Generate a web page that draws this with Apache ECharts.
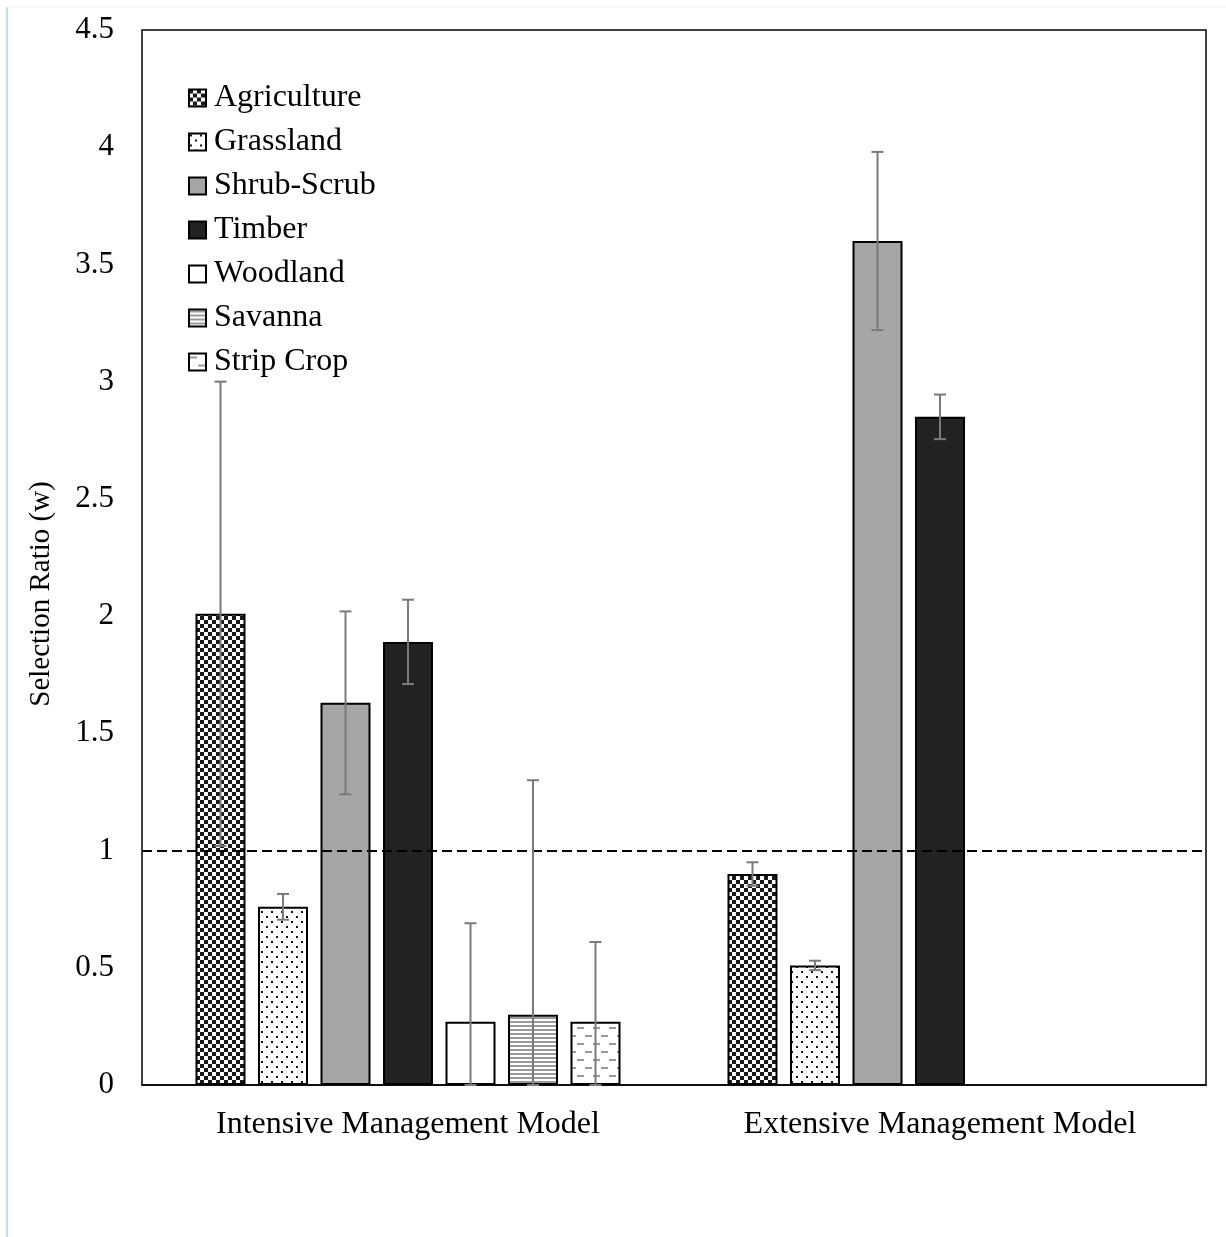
<!DOCTYPE html>
<html>
<head>
<meta charset="utf-8">
<script src="https://cdn.jsdelivr.net/npm/echarts@6/dist/echarts.min.js"></script>
<style>
  html, body { margin: 0; padding: 0; background: #fff; }
  #chart { width: 1226px; height: 1237px; }
</style>
</head>
<body>
<div id="chart"></div>
<script>
// Management models on the x axis
const categories = ['Intensive Management Model', 'Extensive Management Model'];

// Land cover types (one bar series each)
const landTypes = ['Agriculture', 'Grassland', 'Shrub-Scrub', 'Timber', 'Woodland', 'Savanna', 'Strip Crop'];

// Selection ratio (w) per land type: [intensive, extensive]
const agriculture = [2.01, 0.90];
const grassland   = [0.76, 0.51];
const shrubScrub  = [1.63, 3.60];
const timber      = [1.89, 2.85];
const woodland    = [0.27, null];
const savanna     = [0.30, null];
const stripCrop   = [0.27, null];

// Error bar half-widths (±) per land type: [intensive, extensive]
const agricultureErr = [0.99, 0.05];
const grasslandErr   = [0.055, 0.02];
const shrubScrubErr  = [0.39, 0.38];
const timberErr      = [0.18, 0.095];
const woodlandErr    = [0.42, null];
const savannaErr     = [1.00, null];
const stripCropErr   = [0.34, null];

// Y-axis range and title
const yMin = 0, yMax = 4.5, yStep = 0.5;
const yTitle = 'Selection Ratio (w)';
// Reference line value
const referenceValue = 1;

const values = [agriculture, grassland, shrubScrub, timber, woodland, savanna, stripCrop];
const errors = [agricultureErr, grasslandErr, shrubScrubErr, timberErr, woodlandErr, savannaErr, stripCropErr];

// ---- fill patterns ----
function makeTile(w, h, draw) {
  const c = document.createElement('canvas');
  c.width = w; c.height = h;
  const ctx = c.getContext('2d');
  ctx.fillStyle = '#ffffff';
  ctx.fillRect(0, 0, w, h);
  draw(ctx);
  return { image: c, repeat: 'repeat' };
}
const checkerFill = makeTile(8, 8, ctx => {
  ctx.fillStyle = '#1a1a1a';
  ctx.fillRect(0, 0, 4, 4);
  ctx.fillRect(4, 4, 4, 4);
});
const dotFill = makeTile(10, 10, ctx => {
  ctx.fillStyle = '#111111';
  ctx.fillRect(1, 1, 2, 2);
  ctx.fillRect(6, 6, 2, 2);
});
const stripeFill = makeTile(4, 4, ctx => {
  ctx.fillStyle = '#9a9a9a';
  ctx.fillRect(0, 1, 4, 2);
});
const dashFill = makeTile(16, 16, ctx => {
  ctx.fillStyle = '#9a9a9a';
  ctx.fillRect(1, 3, 7, 2);
  ctx.fillRect(9, 11, 7, 2);
});
const fills = [checkerFill, dotFill, '#a6a6a6', '#222222', '#ffffff', stripeFill, dashFill];

const barWidth = 50;
const barGapRatio = 0.25;
const serifFont = '"Liberation Serif", "Times New Roman", serif';

const barSeries = landTypes.map((name, i) => ({
  name: name,
  type: 'bar',
  barWidth: barWidth,
  barGap: (barGapRatio * 100) + '%',
  barCategoryGap: '20%',
  data: values[i].map(v => (v === null ? '-' : v)),
  itemStyle: { color: fills[i], borderColor: '#000', borderWidth: 2 },
  emphasis: { disabled: true },
  z: 2
}));

// reference line at w = 1
barSeries[0].markLine = {
  silent: true,
  symbol: 'none',
  label: { show: false },
  lineStyle: { color: '#000', type: [10, 5], width: 2.2 },
  data: [{ yAxis: referenceValue }]
};

// error bars drawn on top of the bars
const errData = [];
values.forEach((arr, s) => arr.forEach((v, c) => {
  if (v !== null) errData.push([c, v, errors[s][c], s]);
}));

const errorSeries = {
  type: 'custom',
  name: 'errors',
  silent: true,
  z: 5,
  data: errData,
  encode: { x: 0, y: 1 },
  renderItem: function (params, api) {
    const c = api.value(0), v = api.value(1), e = api.value(2), s = api.value(3);
    const n = landTypes.length;
    const step = barWidth * (1 + barGapRatio);
    const center = api.coord([c, v]);
    const x = center[0] + (s - (n - 1) / 2) * step;
    const yHi = api.coord([c, Math.min(yMax, v + e)])[1];
    const yLo = api.coord([c, Math.max(yMin, v - e)])[1];
    const cap = 6;
    const style = { stroke: '#7a7a7a', lineWidth: 2 };
    return {
      type: 'group',
      children: [
        { type: 'line', shape: { x1: x, y1: yHi, x2: x, y2: yLo }, style: style },
        { type: 'line', shape: { x1: x - cap, y1: yHi, x2: x + cap, y2: yHi }, style: style },
        { type: 'line', shape: { x1: x - cap, y1: yLo, x2: x + cap, y2: yLo }, style: style }
      ]
    };
  }
};

const chart = echarts.init(document.getElementById('chart'), null, { renderer: 'canvas' });
chart.setOption({
  animation: false,
  backgroundColor: '#ffffff',
  textStyle: { fontFamily: serifFont, color: '#000' },
  grid: {
    left: 142, right: 20, top: 30, bottom: 152,
    show: true, borderColor: '#000', borderWidth: 1.5, backgroundColor: 'transparent'
  },
  legend: {
    orient: 'vertical',
    left: 183, top: 77,
    itemWidth: 17, itemHeight: 17, itemGap: 12,
    icon: 'rect',
    selectedMode: false,
    data: landTypes,
    textStyle: { fontFamily: serifFont, fontSize: 32, color: '#000', lineHeight: 32, padding: [0, 0, 0, 3] }
  },
  xAxis: {
    type: 'category',
    data: categories,
    axisLine: { show: true, lineStyle: { color: '#000', width: 1.5 } },
    axisTick: { show: false },
    axisLabel: { fontFamily: serifFont, fontSize: 32, color: '#000', margin: 24 }
  },
  yAxis: {
    type: 'value',
    min: yMin, max: yMax, interval: yStep,
    axisLine: { show: false },
    axisTick: { show: false },
    splitLine: { show: false },
    axisLabel: { fontFamily: serifFont, fontSize: 31, color: '#000', margin: 28 }
  },
  graphic: [
    { type: 'line', shape: { x1: 7, y1: 7, x2: 7, y2: 1237 }, style: { stroke: '#c9ddf0', lineWidth: 2 } },
    { type: 'line', shape: { x1: 7, y1: 7, x2: 1226, y2: 7 }, style: { stroke: '#f0f0f0', lineWidth: 1 } },
    {
      type: 'text',
      x: 41, y: 594,
      rotation: Math.PI / 2,
      style: {
        text: yTitle,
        font: '29px ' + serifFont,
        fill: '#000',
        textAlign: 'center',
        textVerticalAlign: 'middle'
      }
    }
  ],
  series: barSeries.concat([errorSeries])
});
</script>
</body>
</html>
